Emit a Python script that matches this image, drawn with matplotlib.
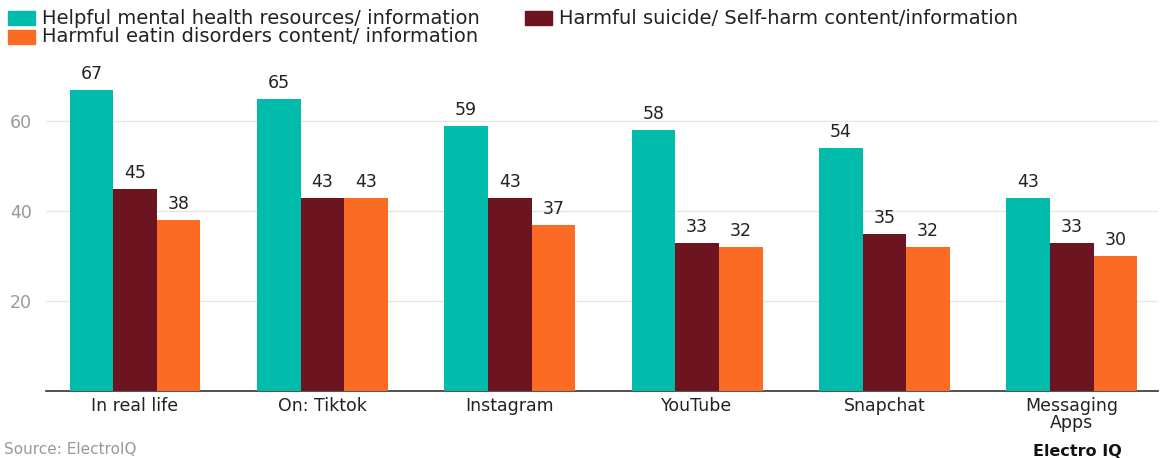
import matplotlib.pyplot as plt
from matplotlib.patches import Rectangle
import numpy as np

categories = ["In real life", "On: Tiktok", "Instagram", "YouTube", "Snapchat", "Messaging\nApps"]
helpful = [67, 65, 59, 58, 54, 43]
suicide = [45, 43, 43, 33, 35, 33]
eating = [38, 43, 37, 32, 32, 30]
series_names = [
    "Helpful mental health resources/ information",
    "Harmful suicide/ Self-harm content/information",
    "Harmful eatin disorders content/ information",
]
colors = ["#02BCAB", "#6D1421", "#FC6B24"]

W, H = 1161, 458
fig = plt.figure(figsize=(W / 100, H / 100), dpi=100)
ax = fig.add_axes([46 / W, 67 / H, 1112 / W, 324 / H])

x = np.arange(len(categories))
width = 0.233
for i, (vals, c) in enumerate(zip([helpful, suicide, eating], colors)):
    b = ax.bar(x + (i - 1) * width, vals, width, color=c, zorder=3)
    ax.bar_label(b, padding=5, fontsize=12.5, color="#222222")

ax.set_xlim(-0.475, 5.46)
ax.set_ylim(0, 72)
ax.set_yticks([20, 40, 60])
ax.set_xticks(x)
ax.set_xticklabels(categories, fontsize=12.5, color="#222222", linespacing=0.95)
ax.tick_params(axis="x", length=0, pad=4)
ax.tick_params(axis="y", length=0, labelsize=12.5, labelcolor="#999999", pad=10)
ax.grid(axis="y", color="#e6e6e6", linewidth=1, zorder=0)
for s in ["left", "right", "top"]:
    ax.spines[s].set_visible(False)
ax.spines["bottom"].set_color("#333333")
ax.spines["bottom"].set_linewidth(1.2)

# legend drawn by hand: (square left x, row centre y) in pixels from top-left
legend_pos = [(8, 18), (525, 18), (8, 37)]
for (px, py), name, c in zip(legend_pos, series_names, colors):
    fig.add_artist(Rectangle((px / W, 1 - (py + 7) / H), 27 / W, 14 / H,
                             transform=fig.transFigure, color=c))
    fig.text((px + 34) / W, 1 - py / H, name, fontsize=14, color="#222222",
             va="center", ha="left")

fig.text(4 / W, 1 / H, "Source: ElectroIQ", fontsize=11, color="#999999", va="bottom")
fig.text(1077 / W, 1 - 452 / H, "Electro IQ", fontsize=11.5, fontweight="heavy",
         ha="center", va="center", color="#111111")

fig.savefig("out.png", dpi=100)
